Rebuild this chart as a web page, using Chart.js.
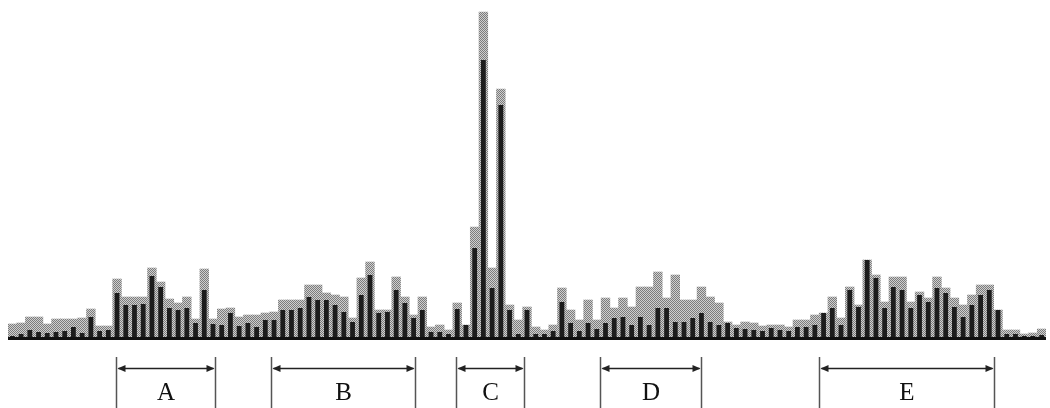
<!DOCTYPE html>
<html>
<head>
<meta charset="utf-8">
<script src="https://cdn.jsdelivr.net/npm/chart.js@4/dist/chart.umd.min.js"></script>
<style>
  html, body { margin: 0; padding: 0; background: #fff; }
  #wrap { width: 1050px; height: 408px; }
</style>
</head>
<body>
<div id="wrap"><canvas id="spectrum"></canvas></div>
<script>
// envelope (gray, stippled) and peak (black) heights per bin
const grayValues = [
  15, 16, 22, 22, 15, 20, 20, 20, 21, 30,
  13, 13, 60, 42, 42, 42, 71, 57, 40, 36,
  42, 20, 70, 20, 30, 31, 22, 24, 24, 26,
  27, 39, 39, 39, 54, 54, 46, 44, 42, 21,
  61, 77, 29, 29, 62, 42, 24, 42, 12, 14,
  9, 36, 14, 112, 327, 71, 250, 34, 19, 32,
  12, 9, 14, 51, 29, 19, 39, 19, 41, 31,
  41, 32, 52, 52, 67, 41, 64, 39, 39, 52,
  42, 36, 17, 14, 17, 16, 13, 14, 14, 12,
  19, 19, 24, 26, 42, 21, 52, 34, 79, 64,
  37, 62, 62, 37, 47, 41, 62, 51, 41, 34,
  44, 54, 54, 29, 9, 9, 5, 6, 10
];
const blackValues = [
  3, 5, 9, 7, 6, 7, 8, 12, 6, 22,
  8, 9, 46, 34, 34, 35, 63, 52, 31, 29,
  31, 16, 49, 15, 14, 26, 13, 16, 12, 19,
  19, 29, 29, 31, 42, 39, 39, 34, 27, 17,
  44, 64, 26, 27, 49, 36, 21, 29, 7, 7,
  5, 30, 14, 91, 279, 51, 234, 29, 5, 29,
  5, 5, 8, 37, 16, 8, 16, 10, 16, 21,
  22, 14, 22, 14, 31, 31, 17, 17, 21, 26,
  17, 14, 16, 11, 10, 9, 8, 11, 9, 8,
  12, 12, 14, 26, 31, 14, 49, 32, 79, 61,
  31, 52, 49, 31, 44, 37, 51, 46, 32, 22,
  34, 44, 49, 29, 5, 5, 3, 3, 4
];
const bins = grayValues.map((_, i) => String(i + 1));

// marked regions, in bin units
const regionLabels = ['A', 'B', 'C', 'D', 'E'];
const regionStart = [11.88, 29.62, 50.87, 67.39, 92.5];
const regionEnd = [23.23, 46.17, 58.67, 78.93, 112.57];

function stipple() {
  const c = document.createElement('canvas');
  c.width = 2;
  c.height = 2;
  const g = c.getContext('2d');
  g.fillStyle = '#cfcfcf';
  g.fillRect(0, 0, 2, 2);
  g.fillStyle = '#7c7c7c';
  g.fillRect(0, 0, 1, 1);
  g.fillRect(1, 1, 1, 1);
  return g.createPattern(c, 'repeat');
}

const regionsPlugin = {
  id: 'regions',
  afterDraw(chart) {
    const ctx = chart.ctx;
    const x = chart.scales.x;
    const y0 = chart.scales.y.getPixelForValue(0);
    const p0 = x.getPixelForValue(0);
    const pN = x.getPixelForValue(bins.length - 1);
    const toPx = v => p0 + (pN - p0) * v / (bins.length - 1);

    ctx.save();
    // baseline
    ctx.strokeStyle = '#111';
    ctx.lineWidth = 3;
    ctx.beginPath();
    ctx.moveTo(chart.chartArea.left, y0 - 0.5);
    ctx.lineTo(chart.chartArea.right, y0 - 0.5);
    ctx.stroke();

    const top = y0 + 18;
    const arrowY = y0 + 29.5;
    regionLabels.forEach((label, i) => {
      const a = Math.round(toPx(regionStart[i])) + 0.5;
      const b = Math.round(toPx(regionEnd[i])) + 0.5;
      ctx.strokeStyle = '#555';
      ctx.lineWidth = 1.5;
      ctx.beginPath();
      ctx.moveTo(a, top);
      ctx.lineTo(a, chart.height);
      ctx.moveTo(b, top);
      ctx.lineTo(b, chart.height);
      ctx.stroke();

      ctx.strokeStyle = '#222';
      ctx.lineWidth = 1.5;
      ctx.beginPath();
      ctx.moveTo(a + 2, arrowY);
      ctx.lineTo(b - 2, arrowY);
      ctx.stroke();
      ctx.fillStyle = '#222';
      ctx.beginPath();
      ctx.moveTo(a + 1, arrowY);
      ctx.lineTo(a + 9, arrowY - 3.5);
      ctx.lineTo(a + 9, arrowY + 3.5);
      ctx.closePath();
      ctx.moveTo(b - 1, arrowY);
      ctx.lineTo(b - 9, arrowY - 3.5);
      ctx.lineTo(b - 9, arrowY + 3.5);
      ctx.closePath();
      ctx.fill();

      ctx.fillStyle = '#111';
      ctx.font = '25px "Liberation Serif", "DejaVu Serif", serif';
      ctx.textAlign = 'center';
      ctx.textBaseline = 'middle';
      ctx.fillText(label, (a + b) / 2, y0 + 54);
    });
    ctx.restore();
  }
};

new Chart(document.getElementById('spectrum'), {
  type: 'bar',
  data: {
    labels: bins,
    datasets: [
      {
        data: blackValues,
        backgroundColor: '#1c1c1c',
        borderWidth: 0,
        grouped: false,
        barPercentage: 0.55,
        categoryPercentage: 1
      },
      {
        data: grayValues,
        backgroundColor: stipple(),
        borderWidth: 0,
        grouped: false,
        barPercentage: 1,
        categoryPercentage: 1
      }
    ]
  },
  options: {
    responsive: true,
    maintainAspectRatio: false,
    animation: false,
    layout: { padding: { left: 8, right: 4, top: 9, bottom: 69 } },
    plugins: { legend: { display: false }, tooltip: { enabled: false } },
    scales: {
      x: { display: false },
      y: { display: false, min: 0, max: 330 }
    }
  },
  plugins: [regionsPlugin]
});
</script>
</body>
</html>
